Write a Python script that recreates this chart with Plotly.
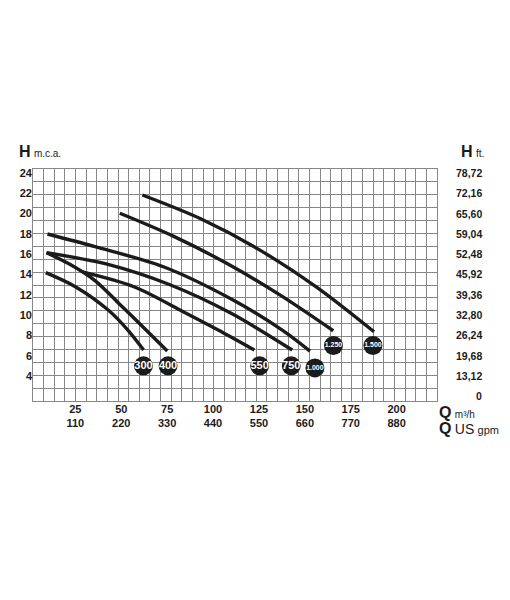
import plotly.graph_objects as go

# ---- data (Q in m3/h, H in m.c.a.) ----
q_300 = [8.9, 25.0, 42.9, 53.6, 62.2]
h_300 = [14.18, 12.80, 10.50, 8.53, 6.56]

q_400 = [9.3, 22.0, 35.7, 49.0, 62.0, 75.1]
h_400 = [16.15, 15.0, 13.4, 11.1, 8.8, 6.46]

q_550 = [28.8, 57.2, 84.0, 102.8, 122.5]
h_550 = [14.25, 12.77, 10.31, 8.53, 6.56]

q_750 = [9.3, 42.75, 76.2, 109.6, 143.1]
h_750 = [16.15, 14.99, 13.01, 10.20, 6.56]

q_1000 = [9.8, 35.7, 73.3, 110.9, 137.7, 152.8]
h_1000 = [17.99, 16.74, 14.74, 11.49, 8.53, 6.46]

q_1250 = [49.2, 78.3, 107.4, 136.4, 165.5]
h_1250 = [20.03, 17.78, 15.10, 11.99, 8.46]

q_1500 = [61.5, 93.0, 124.6, 156.2, 187.7]
h_1500 = [21.83, 19.51, 16.50, 12.78, 8.36]

series_names = ["300", "400", "550", "750", "1.000", "1.250", "1.500"]
label_q = [62.1, 75.5, 125.4, 142.6, 155.5, 165.6, 187.1]
label_h = [5.0, 5.0, 5.0, 5.0, 4.8, 7.0, 7.0]

x_ticks = [25, 50, 75, 100, 125, 150, 175, 200]
gpm_labels = ["110", "220", "330", "440", "550", "660", "770", "880"]
y_ticks = [4, 6, 8, 10, 12, 14, 16, 18, 20, 22, 24]
ft_pos = [2, 4, 6, 8, 10, 12, 14, 16, 18, 20, 22, 24]
ft_labels = ["0", "13,12", "19,68", "26,24", "32,80", "39,36", "45,92",
             "52,48", "59,04", "65,60", "72,16", "78,72"]

grid_cols = 38
grid_rows = 18

curves = [(q_300, h_300), (q_400, h_400), (q_550, h_550), (q_750, h_750),
          (q_1000, h_1000), (q_1250, h_1250), (q_1500, h_1500)]

INK = "#1b1b1b"
FONT = "Liberation Sans, Arial, sans-serif"

fig = go.Figure()

# invisible trace to hold the grid axes
fig.add_trace(go.Scatter(x=[0, grid_cols], y=[0, grid_rows], mode="markers",
                         marker=dict(opacity=0), hoverinfo="skip",
                         showlegend=False, xaxis="x", yaxis="y"))

for (q, h), name in zip(curves, series_names):
    fig.add_trace(go.Scatter(x=q, y=h, mode="lines", name=name,
                             line=dict(color=INK, width=3.4, shape="spline", smoothing=0.9),
                             showlegend=False, xaxis="x2", yaxis="y2"))

sizes = [11 if len(n) == 3 else 7 for n in series_names]
fig.add_trace(go.Scatter(x=label_q, y=label_h, mode="markers+text",
                         text=["<b>%s</b>" % n for n in series_names],
                         textposition="middle center",
                         textfont=dict(color="white", size=sizes,
                                       family="Liberation Sans Narrow, Liberation Sans, Arial"),
                         marker=dict(size=19, color=INK),
                         showlegend=False, xaxis="x2", yaxis="y2", cliponaxis=False))

annotations = []
for p, t in zip(ft_pos, ft_labels):
    annotations.append(dict(x=1.117, xref="paper", y=p, yref="y2", text="<b>%s</b>" % t,
                            xanchor="right", yanchor="middle", showarrow=False,
                            font=dict(family=FONT, size=10.5, color=INK)))
annotations.append(dict(x=0, xref="x2", y=0, yref="paper", text="<b>0</b>",
                        xanchor="center", yanchor="top", yshift=-3, showarrow=False,
                        font=dict(family=FONT, size=11, color=INK)))
annotations += [
    dict(x=-0.04, xref="paper", y=1.03, yref="paper", xanchor="left", yanchor="bottom",
         text="<b><span style='font-size:16px'>H</span></b> <span style='font-size:10px'>m.c.a.</span>",
         showarrow=False, font=dict(family=FONT, color=INK)),
    dict(x=1.055, xref="paper", y=1.03, yref="paper", xanchor="left", yanchor="bottom",
         text="<b><span style='font-size:16px'>H</span></b> <span style='font-size:10px'>ft.</span>",
         showarrow=False, font=dict(family=FONT, color=INK)),
    dict(x=1.0, xref="paper", y=-0.005, yref="paper", xanchor="left", yanchor="top",
         text="<b><span style='font-size:16px'>Q</span></b> <span style='font-size:10px'>m³/h</span>",
         showarrow=False, font=dict(family=FONT, color=INK)),
    dict(x=1.0, xref="paper", y=-0.075, yref="paper", xanchor="left", yanchor="top",
         text="<b><span style='font-size:16px'>Q</span></b> <span style='font-size:14px'>US</span> <span style='font-size:11px'>gpm</span>",
         showarrow=False, font=dict(family=FONT, color=INK)),
]

GRID = "#878787"
fig.update_layout(
    width=510, height=600,
    margin=dict(l=19, r=81, t=161, b=207),
    paper_bgcolor="white", plot_bgcolor="white",
    xaxis=dict(range=[0, grid_cols], dtick=1, showgrid=True, gridcolor=GRID, gridwidth=1,
               showticklabels=False, zeroline=False, showline=True, linecolor=GRID,
               mirror=True, ticks=""),
    yaxis=dict(range=[0, grid_rows], dtick=1, showgrid=True, gridcolor=GRID, gridwidth=1,
               showticklabels=False, zeroline=False, showline=True, linecolor=GRID,
               mirror=True, ticks=""),
    xaxis2=dict(overlaying="x", anchor="y2", side="bottom", range=[1.93, 222.0],
                tickvals=x_ticks,
                ticktext=["<b>%d</b><br><b>%s</b>" % (v, g) for v, g in zip(x_ticks, gpm_labels)],
                showgrid=False, zeroline=False, ticks="",
                tickfont=dict(family=FONT, size=11, color=INK)),
    yaxis2=dict(overlaying="y", anchor="x2", side="left", range=[1.54, 24.39],
                tickvals=y_ticks, ticktext=["<b>%d</b>" % v for v in y_ticks],
                showgrid=False, zeroline=False, ticks="",
                tickfont=dict(family=FONT, size=11, color=INK)),
    annotations=annotations,
)

fig.write_html("out.html")
